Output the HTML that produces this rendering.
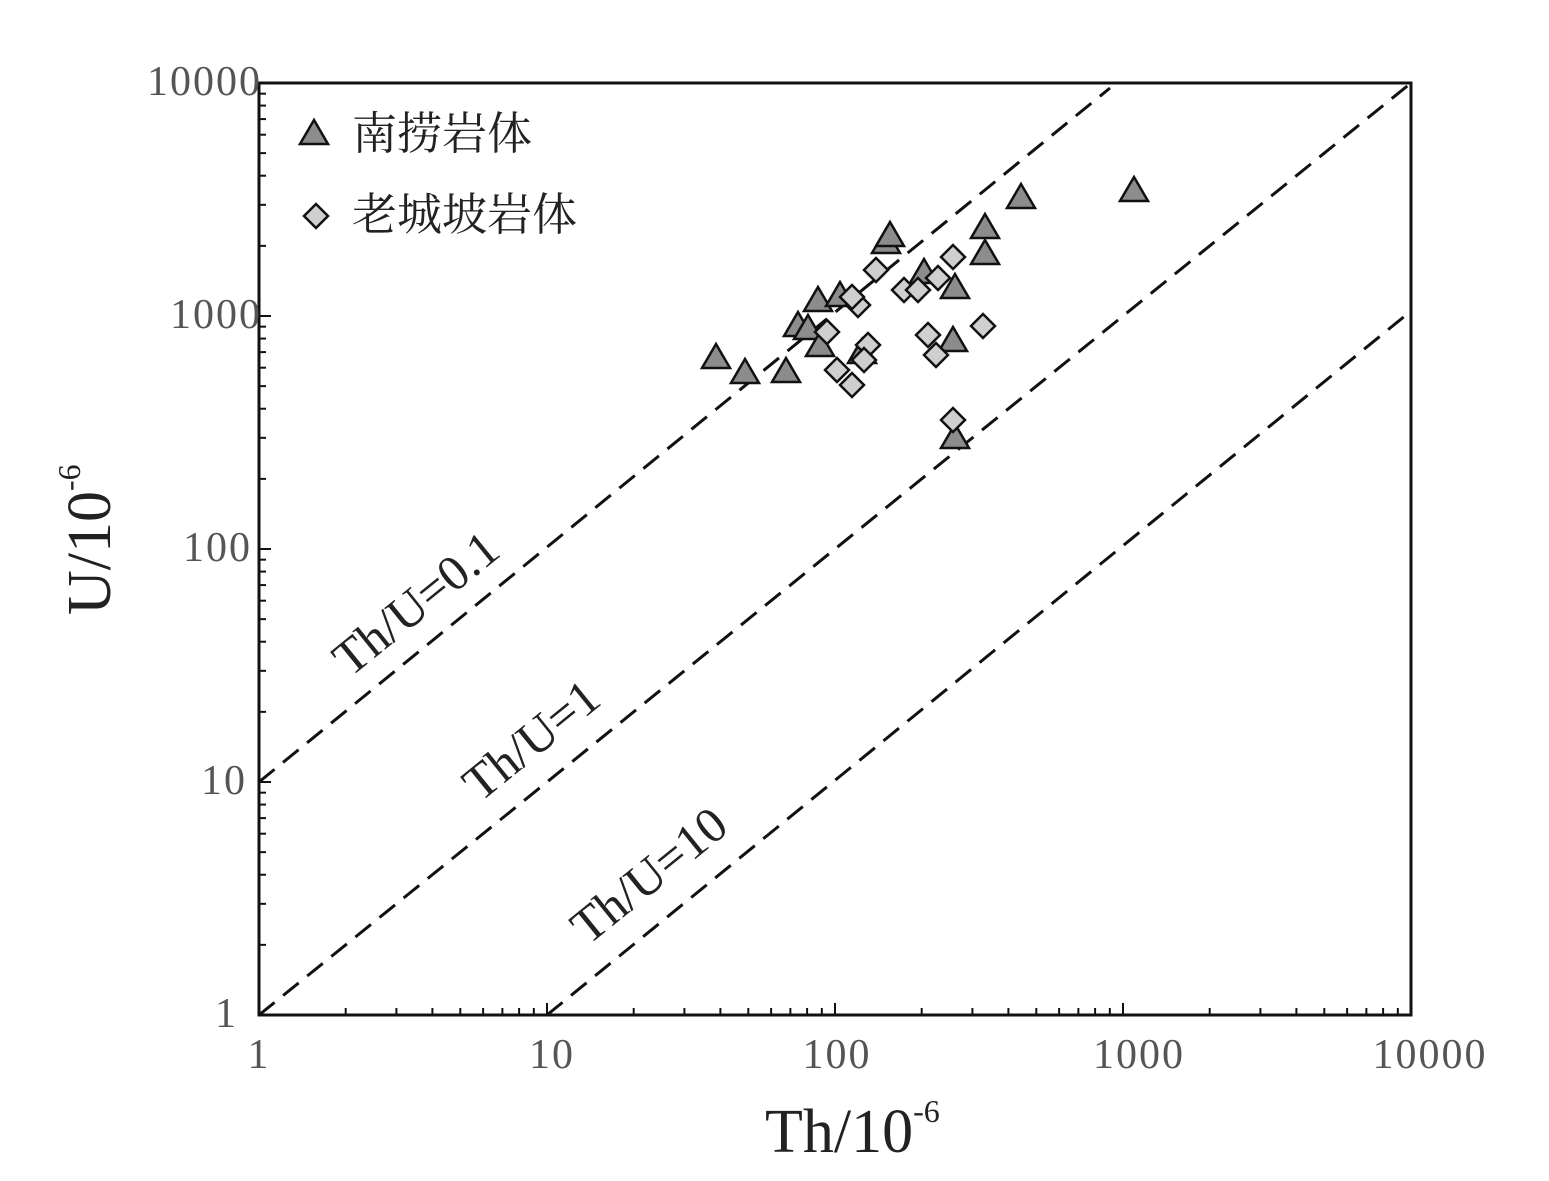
<!DOCTYPE html>
<html><head><meta charset="utf-8"><style>
html,body{margin:0;padding:0;background:#fff}
svg{display:block}
</style></head><body>
<svg id="s" width="1549" height="1181" viewBox="0 0 1549 1181" xmlns="http://www.w3.org/2000/svg">
<g id="ticks" stroke="#111" stroke-width="2"></g>
<rect x="259" y="83" width="1152" height="932" fill="none" stroke="#111" stroke-width="3"/>
<g stroke="#111" stroke-width="3" stroke-dasharray="20,11" fill="none">
<line x1="259" y1="782" x2="1110" y2="88"/>
<line x1="259" y1="1015" x2="1411" y2="83"/>
<line x1="547" y1="1015" x2="1411" y2="311"/>
</g>
<g font-family="Liberation Serif, serif" fill="#555" font-size="42" letter-spacing="2">
<text x="262" y="95" text-anchor="end">10000</text>
<text x="262" y="328" text-anchor="end">1000</text>
<text x="252" y="561" text-anchor="end">100</text>
<text x="247" y="794" text-anchor="end">10</text>
<text x="238" y="1027" text-anchor="end">1</text>
<text x="259" y="1068" text-anchor="middle">1</text>
<text x="552" y="1068" text-anchor="middle">10</text>
<text x="837" y="1068" text-anchor="middle">100</text>
<text x="1139" y="1068" text-anchor="middle">1000</text>
<text x="1430" y="1068" text-anchor="middle">10000</text>
</g>
<g font-family="Liberation Serif, serif" fill="#222">
<text x="765" y="1152" font-size="62">Th/10<tspan font-size="32" dy="-30">-6</tspan></text>
<text transform="translate(110,615) rotate(-90)" font-size="62">U/10<tspan font-size="32" dy="-30">-6</tspan></text>
<text transform="translate(350,678) rotate(-39)" font-size="50">Th/U=0.1</text>
<text transform="translate(480,803) rotate(-39)" font-size="50">Th/U=1</text>
<text transform="translate(588,946) rotate(-39)" font-size="50">Th/U=10</text>
</g>
<g font-family="Liberation Serif, 'Noto Serif CJK SC', serif" font-size="45" fill="#222">
<text x="352" y="149">南捞岩体</text>
<text x="352" y="230">老城坡岩体</text>
</g>
<g id="pts" stroke="#111" stroke-width="2.5"></g>
</svg>
<script>
var NS="http://www.w3.org/2000/svg",t=document.getElementById("ticks"),p=document.getElementById("pts");
function L(x1,y1,x2,y2){var l=document.createElementNS(NS,"line");l.setAttribute("x1",x1);l.setAttribute("y1",y1);l.setAttribute("x2",x2);l.setAttribute("y2",y2);t.appendChild(l);}
for(var d=0;d<4;d++)for(var k=1;k<=10;k++){var len=(k==1||k==10)?12:7;
var x=259+(d+Math.log10(k))*288;L(x,1015,x,1015-len);
var y=1015-(d+Math.log10(k))*233;L(259,y,259+len,y);}
function tri(x,y){var e=document.createElementNS(NS,"polygon");e.setAttribute("points",(x)+","+(y-13)+" "+(x+14)+","+(y+11)+" "+(x-14)+","+(y+11));e.setAttribute("fill","#8c8c8c");p.appendChild(e);}
function dia(x,y){var e=document.createElementNS(NS,"polygon");e.setAttribute("points",x+","+(y-12)+" "+(x+12)+","+y+" "+x+","+(y+12)+" "+(x-12)+","+y);e.setAttribute("fill","#cfcfcf");p.appendChild(e);}
tri(314,133);dia(316,216);
[[716,357],[745,372],[786,371],[798,325],[808,328],[818,300],[820,345],[840,295],[862,352],[886,242],[890,235],[924,272],[955,287],[953,340],[985,227],[985,253],[1021,197],[1134,190],[955,437]].forEach(function(a){tri(a[0],a[1]);});
[[827,332],[837,370],[852,385],[858,305],[852,297],[876,270],[868,345],[904,290],[918,290],[928,335],[936,355],[938,278],[953,257],[983,326],[953,420],[864,360]].forEach(function(a){dia(a[0],a[1]);});
</script>
</body></html>
